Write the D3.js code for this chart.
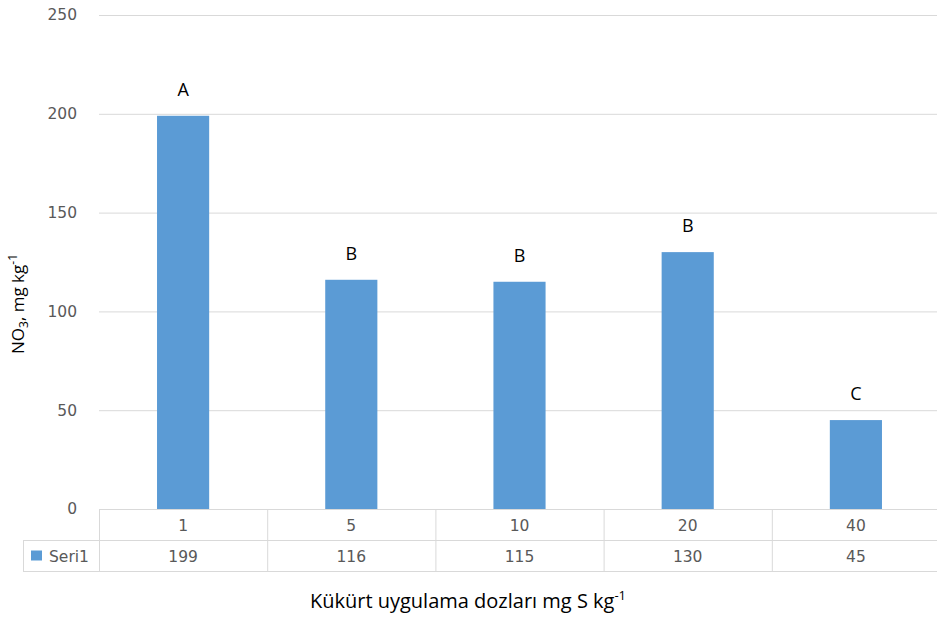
<!DOCTYPE html>
<html>
<head>
<meta charset="utf-8">
<script src="https://cdn.jsdelivr.net/npm/d3@7"></script>
<style>
  html, body { margin: 0; padding: 0; background: #fff; }
  svg { display: block; }
</style>
</head>
<body>
<svg id="chart" width="937" height="619"></svg>
<script>
// Sulphur doses (mg S kg-1) and NO3 concentrations
const categories = ["1", "5", "10", "20", "40"];
const values = [199, 116, 115, 130, 45];
const letters = ["A", "B", "B", "B", "C"];
const seriesName = "Seri1";
const yTicks = [0, 50, 100, 150, 200, 250];

(function draw() {
  const svg = d3.select("#chart");
  const plotLeft = 99, plotRight = 940, plotTop = 15, plotBottom = 509;
  const rowH = 31;
  const tableLeft = 23;

  const x = d3.scaleBand().domain(categories).range([plotLeft, plotRight]).paddingInner(0).paddingOuter(0);
  const y = d3.scaleLinear().domain([0, 250]).range([plotBottom, plotTop]);

  const gridColor = "#d9d9d9";
  const textGray = "#595959";
  const barColor = "#5b9bd5";
  const font = "'Open Sans', 'Noto Sans', sans-serif";
  const numFont = "'DejaVu Sans', Verdana, sans-serif";
  const numSize = 15.5;

  // gridlines
  svg.append("g")
    .selectAll("line")
    .data(yTicks.filter(t => t > 0))
    .join("line")
    .attr("x1", plotLeft).attr("x2", plotRight)
    .attr("y1", d => y(d) + 0.5).attr("y2", d => y(d) + 0.5)
    .attr("stroke", gridColor).attr("stroke-width", 1);

  // y axis labels
  const yAxis = d3.axisLeft(y).tickValues(yTicks).tickSize(0).tickPadding(22);
  const gy = svg.append("g").attr("transform", `translate(${plotLeft},0)`).call(yAxis);
  gy.select(".domain").remove();
  gy.selectAll("text")
    .attr("font-family", numFont).attr("font-size", numSize).attr("fill", textGray);

  // bars
  const barW = x.bandwidth() * 0.31;
  svg.append("g")
    .selectAll("rect")
    .data(values)
    .join("rect")
    .attr("x", (d, i) => x(categories[i]) + x.bandwidth() / 2 - barW / 2)
    .attr("y", d => y(d))
    .attr("width", barW)
    .attr("height", d => y(0) - y(d))
    .attr("fill", barColor);

  // significance letters
  svg.append("g")
    .selectAll("text")
    .data(values)
    .join("text")
    .attr("x", (d, i) => x(categories[i]) + x.bandwidth() / 2)
    .attr("y", d => y(d) - 20)
    .attr("text-anchor", "middle")
    .attr("font-family", font).attr("font-size", 18).attr("fill", "#000")
    .text((d, i) => letters[i]);

  // data table
  const tg = svg.append("g");
  const line = (x1, y1, x2, y2) => tg.append("line")
    .attr("x1", x1).attr("y1", y1).attr("x2", x2).attr("y2", y2)
    .attr("stroke", gridColor).attr("stroke-width", 1);
  line(plotLeft, plotBottom + 0.5, plotRight, plotBottom + 0.5);
  line(tableLeft, plotBottom + rowH + 0.5, plotRight, plotBottom + rowH + 0.5);
  line(tableLeft, plotBottom + 2 * rowH + 0.5, plotRight, plotBottom + 2 * rowH + 0.5);
  line(tableLeft + 0.5, plotBottom + rowH, tableLeft + 0.5, plotBottom + 2 * rowH);
  categories.forEach(c => line(x(c) + 0.5, plotBottom, x(c) + 0.5, plotBottom + 2 * rowH));

  tg.selectAll("text.cat")
    .data(categories)
    .join("text")
    .attr("class", "cat")
    .attr("x", d => x(d) + x.bandwidth() / 2)
    .attr("y", plotBottom + rowH / 2 + 6)
    .attr("text-anchor", "middle")
    .attr("font-family", numFont).attr("font-size", numSize).attr("fill", textGray)
    .text(d => d);

  tg.selectAll("text.val")
    .data(values)
    .join("text")
    .attr("class", "val")
    .attr("x", (d, i) => x(categories[i]) + x.bandwidth() / 2)
    .attr("y", plotBottom + rowH * 1.5 + 6)
    .attr("text-anchor", "middle")
    .attr("font-family", numFont).attr("font-size", numSize).attr("fill", textGray)
    .text(d => d);

  // legend key in table
  tg.append("rect")
    .attr("x", tableLeft + 8).attr("y", plotBottom + rowH * 1.5 - 5)
    .attr("width", 11).attr("height", 10).attr("fill", barColor);
  tg.append("text")
    .attr("x", tableLeft + 26).attr("y", plotBottom + rowH * 1.5 + 6)
    .attr("font-family", numFont).attr("font-size", numSize).attr("fill", textGray)
    .text(seriesName);

  // y axis title
  const yt = svg.append("text")
    .attr("transform", `translate(24,${(plotTop + plotBottom) / 2 + 42}) rotate(-90)`)
    .attr("text-anchor", "middle")
    .attr("font-family", font).attr("font-size", 17).attr("fill", "#000");
  yt.append("tspan").text("NO");
  yt.append("tspan").attr("font-size", 12).attr("dy", 4).text("3");
  yt.append("tspan").attr("dy", -4).text(", mg kg");
  yt.append("tspan").attr("font-size", 12).attr("dy", -7).text("-1");

  // x axis title
  const xt = svg.append("text")
    .attr("x", 468).attr("y", 608)
    .attr("text-anchor", "middle")
    .attr("font-family", font).attr("font-size", 20).attr("fill", "#000");
  xt.append("tspan").text("Kükürt uygulama dozları mg S kg");
  xt.append("tspan").attr("font-size", 13).attr("dy", -8).text("-1");
})();
</script>
</body>
</html>
